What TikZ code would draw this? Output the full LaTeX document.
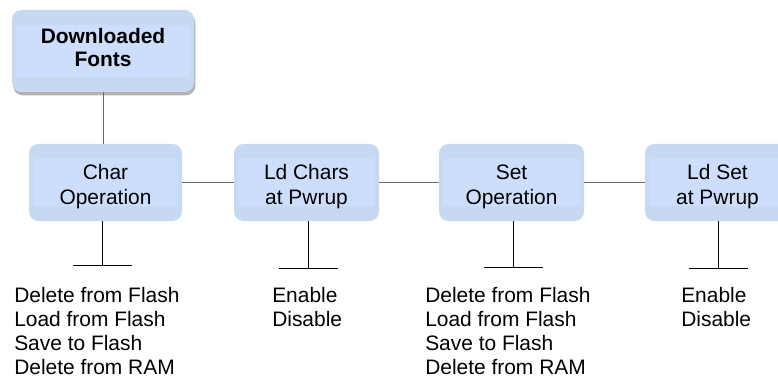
\documentclass[tikz,border=0pt]{standalone}
\usepackage{fontspec}
\setmainfont{Liberation Sans}
\usetikzlibrary{shadows}
\definecolor{boxouter}{RGB}{198,217,240}
\definecolor{boxinner}{RGB}{205,222,252}
\definecolor{linkgray}{RGB}{105,105,105}
\tikzset{
  menubox/.style={rounded corners=7pt,fill=boxouter,align=center,inner sep=0pt,
    minimum width=108.75pt,minimum height=57.75pt,text height=35.6pt,text depth=3.3pt,
    path picture={\fill[boxinner,sharp corners]
      ([xshift=3pt,yshift=-11pt]path picture bounding box.north west) rectangle
      ([xshift=-3pt,yshift=11pt]path picture bounding box.south east);}},
  link/.style={draw=linkgray,line width=0.75pt},
  stem/.style={draw=black,line width=0.75pt},
  choices/.style={align=left,inner sep=0pt,anchor=north west}
}
\begin{document}
\begin{tikzpicture}[x=0.75pt,y=-0.75pt,font=\fontsize{15.7pt}{18.2pt}\selectfont]
  \useasboundingbox (0,0) rectangle (778,381);
  \node[menubox,minimum width=136.5pt,minimum height=61.5pt,text height=23.6pt,text depth=0pt,
    font=\fontsize{15.7pt}{17.5pt}\selectfont\bfseries,
    drop shadow={shadow xshift=1pt,shadow yshift=-2.5pt,fill=black!50,opacity=0.6}] (fonts) at (103,51) {Downloaded\\Fonts};
  \node[menubox,minimum width=114.75pt] (charop) at (105.5,182.5) {Char\\Operation};
  \node[menubox] (ldchars) at (306.5,182.5) {Ld Chars\\at Pwrup};
  \node[menubox] (setop) at (511.5,182.5) {Set\\Operation};
  \node[menubox] (ldset) at (717.5,182.5) {Ld Set\\at Pwrup};
  \draw[link] (fonts.south) -- (fonts.south |- charop.north);
  \draw[link] (charop.east) -- (ldchars.west);
  \draw[link] (ldchars.east) -- (setop.west);
  \draw[link] (setop.east) -- (ldset.west);
  % stems down to the bars
  \foreach \boxname/\stemx/\stemy in {charop/102/265,ldchars/308/268,setop/513/267,ldset/718/268}{
    \coordinate (\boxname foot) at (\stemx,\stemy);
    \coordinate (\boxname barl) at (\stemx-29.5,\stemy);
    \coordinate (\boxname barr) at (\stemx+29.5,\stemy);
    \draw[stem] (\boxname.south -| \boxname foot) -- (\boxname foot);
    \draw[stem] (\boxname barl) -- (\boxname barr);
  }
  \node[choices] (charlist) at (14,286.7) {Delete from Flash\\Load from Flash\\Save to Flash\\Delete from RAM};
  \node[choices] (ldcharslist) at (272,286.7) {Enable\\Disable};
  \node[choices] (setlist) at (425,286.7) {Delete from Flash\\Load from Flash\\Save to Flash\\Delete from RAM};
  \node[choices] (ldsetlist) at (681,286.7) {Enable\\Disable};
\end{tikzpicture}
\end{document}
